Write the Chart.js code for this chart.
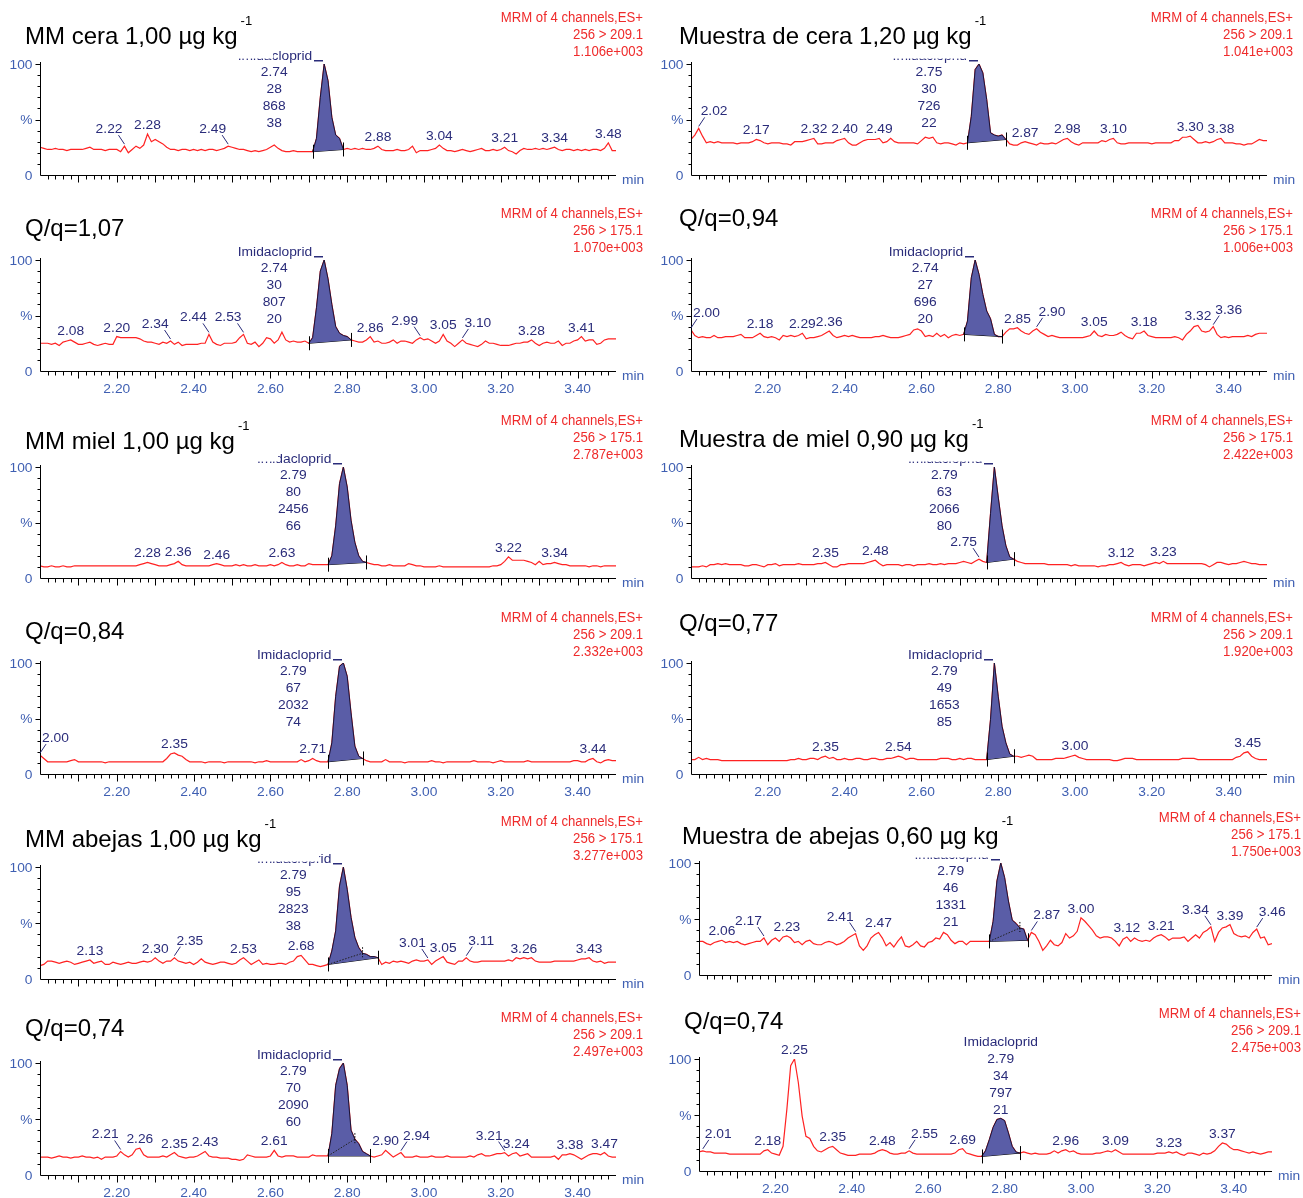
<!DOCTYPE html>
<html>
<head>
<meta charset="utf-8">
<title>Imidacloprid MRM chromatograms</title>
<script src="https://cdn.jsdelivr.net/npm/chart.js@4.4.1/dist/chart.umd.min.js"></script>
<style>
  html, body { margin: 0; padding: 0; background: #fff; }
  #page { position: relative; width: 1303px; height: 1198px; overflow: hidden; background: #fff; }
  #page canvas { position: absolute; }
</style>
</head>
<body>
<div id="page"></div>
<script>
// Retention time grid (min)
const TIMES = [
  2.00, 2.01, 2.02, 2.03, 2.04, 2.05, 2.06, 2.07, 2.08, 2.09,
  2.10, 2.11, 2.12, 2.13, 2.14, 2.15, 2.16, 2.17, 2.18, 2.19,
  2.20, 2.21, 2.22, 2.23, 2.24, 2.25, 2.26, 2.27, 2.28, 2.29,
  2.30, 2.31, 2.32, 2.33, 2.34, 2.35, 2.36, 2.37, 2.38, 2.39,
  2.40, 2.41, 2.42, 2.43, 2.44, 2.45, 2.46, 2.47, 2.48, 2.49,
  2.50, 2.51, 2.52, 2.53, 2.54, 2.55, 2.56, 2.57, 2.58, 2.59,
  2.60, 2.61, 2.62, 2.63, 2.64, 2.65, 2.66, 2.67, 2.68, 2.69,
  2.70, 2.71, 2.72, 2.73, 2.74, 2.75, 2.76, 2.77, 2.78, 2.79,
  2.80, 2.81, 2.82, 2.83, 2.84, 2.85, 2.86, 2.87, 2.88, 2.89,
  2.90, 2.91, 2.92, 2.93, 2.94, 2.95, 2.96, 2.97, 2.98, 2.99,
  3.00, 3.01, 3.02, 3.03, 3.04, 3.05, 3.06, 3.07, 3.08, 3.09,
  3.10, 3.11, 3.12, 3.13, 3.14, 3.15, 3.16, 3.17, 3.18, 3.19,
  3.20, 3.21, 3.22, 3.23, 3.24, 3.25, 3.26, 3.27, 3.28, 3.29,
  3.30, 3.31, 3.32, 3.33, 3.34, 3.35, 3.36, 3.37, 3.38, 3.39,
  3.40, 3.41, 3.42, 3.43, 3.44, 3.45, 3.46, 3.47, 3.48, 3.49,
  3.50
];

const X_TICK_VALUES = [2.20, 2.40, 2.60, 2.80, 3.00, 3.20, 3.40];
const X_TICK_TEXT = ['2.20', '2.40', '2.60', '2.80', '3.00', '3.20', '3.40'];
const Y_TICK_VALUES = [0, 50, 100];
const Y_TICK_TEXT = ['0', '%', '100'];
const COMPOUND = 'Imidacloprid';
const MRM_LINE = 'MRM of 4 channels,ES+';

// ---------- Cera, matrix-matched standard ----------
const TITLE_CERA_MM = ['MM cera 1,00 µg kg', '-1'];
const TRACE_CERA_MM_209 = [
  25, 24, 23, 23, 24, 23, 23, 22, 23, 23,
  23, 23, 24, 25, 23, 23, 23, 22, 23, 23,
  23, 21, 26, 20, 23, 26, 24, 27, 37, 30,
  32, 30, 28, 25, 23, 23, 22, 23, 23, 22,
  23, 22, 23, 22, 23, 23, 22, 23, 24, 26,
  25, 24, 23, 23, 22, 21, 22, 21, 22, 23,
  25, 27, 24, 22, 21, 21, 22, 21, 21, 21,
  21, 21, 33, 70, 100, 85, 52, 36, 33, 23,
  24, 23, 24, 23, 24, 23, 23, 24, 26, 23,
  22, 22, 22, 23, 22, 22, 23, 26, 20, 22,
  22, 22, 23, 24, 27, 24, 22, 22, 21, 22,
  23, 22, 21, 22, 23, 24, 22, 22, 23, 22,
  23, 25, 22, 21, 19, 22, 24, 23, 23, 24,
  23, 24, 23, 24, 25, 23, 22, 23, 23, 22,
  23, 22, 23, 22, 23, 23, 22, 24, 29, 22,
  22
];
const MARKS_CERA_MM_209 = [2.22, 2.28, 2.49, 2.88, 3.04, 3.21, 3.34, 3.48];
const PEAK_CERA_MM_209 = [2.71, 2.74, 2.79];
const STATS_CERA_MM_209 = ['2.74', '28', '868', '38'];
const HEAD_CERA_MM_209 = [MRM_LINE, '256 > 209.1', '1.106e+003'];

const TITLE_CERA_MM_Q = ['Q/q=1,07'];
const TRACE_CERA_MM_175 = [
  25, 25, 25, 24, 25, 23, 26, 27, 28, 26,
  24, 24, 25, 26, 24, 23, 24, 25, 24, 24,
  31, 30, 30, 30, 30, 30, 29, 27, 26, 26,
  25, 24, 26, 25, 27, 24, 26, 23, 24, 24,
  24, 24, 25, 25, 33, 26, 24, 23, 25, 25,
  25, 26, 30, 33, 25, 24, 26, 22, 25, 30,
  29, 25, 28, 35, 28, 26, 27, 26, 26, 27,
  25, 30, 57, 90, 100, 83, 60, 40, 34, 32,
  31, 28, 27, 26, 26, 28, 31, 26, 27, 25,
  25, 26, 28, 25, 27, 27, 26, 25, 28, 30,
  28, 29, 27, 25, 27, 33, 27, 25, 22, 25,
  28, 25, 24, 23, 22, 24, 27, 25, 25, 24,
  23, 23, 23, 24, 25, 25, 26, 26, 28, 25,
  23, 25, 26, 25, 25, 27, 23, 25, 25, 27,
  28, 31, 27, 28, 28, 24, 25, 28, 29, 29,
  29
];
const MARKS_CERA_MM_175 = [2.08, 2.20, 2.34, 2.44, 2.53, 2.86, 2.99, 3.05, 3.10, 3.28, 3.41];
const PEAK_CERA_MM_175 = [2.70, 2.74, 2.81];
const STATS_CERA_MM_175 = ['2.74', '30', '807', '20'];
const HEAD_CERA_MM_175 = [MRM_LINE, '256 > 175.1', '1.070e+003'];

// ---------- Miel, matrix-matched standard ----------
const TITLE_MIEL_MM = ['MM miel 1,00 µg kg', '-1'];
const TRACE_MIEL_MM_175 = [
  11, 10, 10, 11, 10, 10, 11, 10, 10, 11,
  11, 11, 11, 11, 11, 11, 11, 11, 11, 11,
  11, 11, 11, 11, 11, 11, 12, 13, 14, 13,
  12, 11, 11, 11, 12, 13, 15, 12, 11, 11,
  11, 11, 11, 11, 11, 12, 13, 12, 11, 11,
  11, 12, 11, 12, 11, 11, 12, 11, 11, 11,
  12, 11, 12, 14, 12, 11, 11, 12, 11, 11,
  13, 12, 12, 12, 12, 12, 20, 47, 85, 100,
  82, 52, 32, 20, 15, 14, 13, 12, 12, 11,
  11, 12, 11, 11, 11, 11, 13, 12, 11, 11,
  10, 10, 10, 10, 11, 10, 10, 10, 10, 10,
  10, 10, 10, 10, 10, 10, 10, 10, 11, 11,
  12, 15, 19, 16, 16, 16, 16, 15, 14, 12,
  15, 12, 13, 13, 14, 13, 12, 12, 11, 11,
  11, 11, 11, 10, 11, 11, 10, 11, 11, 11,
  11
];
const MARKS_MIEL_MM_175 = [2.28, 2.36, 2.46, 2.63, 3.22, 3.34];
const PEAK_MIEL_MM_175 = [2.75, 2.79, 2.85];
const STATS_MIEL_MM_175 = ['2.79', '80', '2456', '66'];
const HEAD_MIEL_MM_175 = [MRM_LINE, '256 > 175.1', '2.787e+003'];

const TITLE_MIEL_MM_Q = ['Q/q=0,84'];
const TRACE_MIEL_MM_209 = [
  17, 14, 11, 11, 11, 11, 11, 11, 12, 13,
  11, 11, 11, 11, 11, 11, 11, 10, 11, 11,
  11, 11, 11, 11, 11, 11, 11, 11, 11, 11,
  11, 11, 11, 14, 18, 19, 17, 16, 13, 11,
  11, 11, 11, 10, 11, 11, 11, 11, 10, 11,
  11, 11, 11, 11, 11, 11, 10, 11, 11, 12,
  11, 11, 11, 11, 11, 11, 11, 11, 13, 11,
  12, 14, 12, 11, 11, 11, 28, 70, 97, 100,
  88, 55, 25, 16, 14, 12, 11, 11, 11, 11,
  13, 11, 11, 11, 11, 10, 11, 11, 11, 11,
  11, 11, 12, 11, 11, 10, 11, 11, 11, 11,
  11, 11, 11, 12, 11, 11, 11, 11, 10, 11,
  12, 11, 11, 11, 11, 11, 11, 12, 11, 11,
  11, 11, 11, 11, 11, 11, 11, 11, 11, 12,
  12, 11, 11, 13, 14, 11, 10, 12, 13, 12,
  12
];
const MARKS_MIEL_MM_209 = [2.00, 2.35, 2.71, 3.44];
const PEAK_MIEL_MM_209 = [2.75, 2.79, 2.84];
const STATS_MIEL_MM_209 = ['2.79', '67', '2032', '74'];
const HEAD_MIEL_MM_209 = [MRM_LINE, '256 > 209.1', '2.332e+003'];

// ---------- Abejas, matrix-matched standard ----------
const TITLE_ABEJAS_MM = ['MM abejas 1,00 µg kg', '-1'];
const TRACE_ABEJAS_MM_175 = [
  12, 13, 16, 16, 15, 14, 15, 16, 15, 13,
  14, 15, 16, 17, 14, 15, 16, 13, 13, 15,
  14, 13, 14, 15, 14, 14, 15, 16, 15, 16,
  19, 16, 14, 16, 16, 19, 16, 15, 14, 15,
  13, 15, 18, 15, 14, 13, 14, 15, 15, 14,
  13, 14, 17, 19, 16, 13, 15, 17, 13, 14,
  13, 13, 14, 14, 13, 15, 16, 20, 21, 17,
  13, 13, 12, 11, 12, 13, 25, 43, 83, 100,
  80, 55, 37, 28, 23, 22, 20, 20, 19, 13,
  15, 14, 16, 15, 16, 15, 14, 16, 17, 16,
  16, 17, 13, 16, 18, 20, 15, 14, 13, 16,
  16, 19, 16, 15, 15, 16, 16, 16, 16, 16,
  16, 16, 17, 16, 19, 18, 19, 18, 19, 16,
  15, 15, 15, 15, 16, 16, 16, 16, 16, 16,
  17, 18, 18, 19, 16, 15, 16, 14, 15, 15,
  15
];
const MARKS_ABEJAS_MM_175 = [2.13, 2.30, 2.35, 2.53, 2.68, 3.01, 3.05, 3.11, 3.26, 3.43];
const PEAK_ABEJAS_MM_175 = [2.75, 2.79, 2.88, 2.84];
const STATS_ABEJAS_MM_175 = ['2.79', '95', '2823', '38'];
const HEAD_ABEJAS_MM_175 = [MRM_LINE, '256 > 175.1', '3.277e+003'];

const TITLE_ABEJAS_MM_Q = ['Q/q=0,74'];
const TRACE_ABEJAS_MM_209 = [
  16, 16, 16, 15, 16, 17, 16, 16, 15, 16,
  16, 17, 16, 16, 15, 16, 14, 16, 16, 16,
  17, 21, 18, 16, 18, 23, 24, 18, 16, 16,
  16, 16, 17, 16, 18, 20, 17, 16, 15, 16,
  16, 17, 19, 21, 17, 16, 16, 15, 15, 15,
  14, 14, 13, 14, 18, 17, 16, 16, 16, 16,
  17, 22, 17, 16, 17, 17, 17, 16, 16, 16,
  16, 18, 17, 17, 17, 17, 37, 80, 95, 100,
  80, 40, 32, 28, 21, 19, 17, 16, 17, 18,
  22, 19, 16, 18, 20, 16, 16, 16, 17, 16,
  16, 16, 17, 16, 16, 16, 17, 16, 16, 16,
  16, 16, 17, 16, 18, 19, 17, 17, 18, 19,
  19, 20, 17, 19, 20, 17, 18, 19, 16, 16,
  16, 16, 16, 16, 17, 14, 18, 18, 19, 18,
  16, 14, 16, 18, 19, 19, 18, 20, 17, 16,
  16
];
const MARKS_ABEJAS_MM_209 = [2.21, 2.26, 2.35, 2.43, 2.61, 2.90, 2.94, 3.21, 3.24, 3.38, 3.47];
const PEAK_ABEJAS_MM_209 = [2.75, 2.79, 2.86, 2.82];
const STATS_ABEJAS_MM_209 = ['2.79', '70', '2090', '60'];
const HEAD_ABEJAS_MM_209 = [MRM_LINE, '256 > 209.1', '2.497e+003'];

// ---------- Cera, sample ----------
const TITLE_CERA_M = ['Muestra de cera 1,20 µg kg', '-1'];
const TRACE_CERA_M_209 = [
  32, 36, 42, 35, 29, 30, 29, 30, 29, 29,
  29, 29, 28, 29, 29, 29, 30, 32, 31, 29,
  28, 29, 29, 29, 28, 28, 27, 30, 30, 30,
  31, 32, 33, 28, 28, 29, 29, 29, 31, 32,
  33, 29, 27, 27, 29, 31, 32, 32, 32, 33,
  29, 30, 33, 30, 29, 29, 29, 29, 29, 28,
  31, 34, 33, 34, 29, 28, 29, 29, 28, 27,
  29, 28, 29, 53, 95, 100, 92, 68, 38, 36,
  35, 36, 32, 28, 27, 27, 29, 30, 29, 28,
  27, 29, 28, 28, 29, 28, 30, 32, 33, 30,
  28, 27, 29, 29, 29, 29, 29, 31, 30, 32,
  33, 29, 28, 28, 29, 29, 29, 29, 29, 29,
  28, 29, 29, 29, 29, 29, 31, 31, 34, 34,
  35, 32, 29, 29, 30, 29, 30, 32, 33, 29,
  29, 29, 28, 28, 27, 28, 28, 30, 32, 31,
  31
];
const MARKS_CERA_M_209 = [2.02, 2.17, 2.32, 2.40, 2.49, 2.87, 2.98, 3.10, 3.30, 3.38];
const PEAK_CERA_M_209 = [2.72, 2.75, 2.82];
const STATS_CERA_M_209 = ['2.75', '30', '726', '22'];
const HEAD_CERA_M_209 = [MRM_LINE, '256 > 209.1', '1.041e+003'];

const TITLE_CERA_M_Q = ['Q/q=0,94'];
const TRACE_CERA_M_175 = [
  37, 32, 30, 31, 30, 30, 32, 30, 30, 31,
  31, 31, 32, 33, 30, 30, 30, 32, 34, 31,
  30, 31, 30, 28, 32, 31, 32, 31, 32, 34,
  29, 30, 30, 31, 32, 34, 36, 32, 30, 31,
  32, 31, 32, 31, 30, 30, 30, 30, 31, 31,
  32, 31, 30, 30, 30, 31, 32, 33, 37, 38,
  36, 31, 32, 31, 34, 31, 33, 30, 32, 33,
  32, 33, 45, 84, 100, 87, 69, 54, 47, 33,
  31, 31, 35, 38, 38, 39, 36, 34, 33, 36,
  38, 35, 33, 31, 32, 31, 30, 30, 30, 30,
  30, 30, 30, 31, 32, 36, 32, 31, 33, 32,
  32, 33, 35, 32, 30, 29, 34, 34, 36, 32,
  31, 30, 30, 30, 30, 30, 31, 30, 28, 33,
  36, 40, 41, 36, 35, 36, 40, 33, 30, 31,
  30, 31, 31, 31, 31, 32, 31, 33, 34, 34,
  34
];
const MARKS_CERA_M_175 = [2.00, 2.18, 2.29, 2.36, 2.85, 2.90, 3.05, 3.18, 3.32, 3.36];
const PEAK_CERA_M_175 = [2.71, 2.74, 2.81];
const STATS_CERA_M_175 = ['2.74', '27', '696', '20'];
const HEAD_CERA_M_175 = [MRM_LINE, '256 > 175.1', '1.006e+003'];

// ---------- Miel, sample ----------
const TITLE_MIEL_M = ['Muestra de miel 0,90 µg kg', '-1'];
const TRACE_MIEL_M_175 = [
  10, 10, 10, 11, 10, 12, 12, 13, 12, 13,
  12, 12, 12, 12, 11, 11, 12, 12, 11, 10,
  12, 12, 13, 11, 12, 12, 12, 12, 13, 12,
  12, 12, 12, 13, 13, 14, 12, 10, 10, 12,
  12, 13, 13, 13, 13, 13, 14, 15, 16, 13,
  11, 12, 12, 12, 12, 11, 12, 12, 11, 12,
  12, 12, 13, 12, 12, 13, 12, 13, 13, 13,
  14, 15, 14, 13, 15, 17, 15, 14, 58, 100,
  73, 47, 29, 19, 17, 15, 14, 13, 13, 13,
  13, 13, 13, 12, 12, 12, 12, 12, 12, 11,
  12, 11, 11, 11, 11, 11, 10, 11, 11, 12,
  12, 13, 14, 12, 11, 12, 12, 12, 11, 12,
  13, 14, 13, 15, 13, 13, 13, 13, 13, 13,
  13, 13, 13, 13, 12, 10, 12, 14, 14, 13,
  12, 13, 13, 14, 15, 14, 13, 13, 12, 12,
  12
];
const MARKS_MIEL_M_175 = [2.35, 2.48, 2.75, 3.12, 3.23];
const PEAK_MIEL_M_175 = [2.77, 2.79, 2.84];
const STATS_MIEL_M_175 = ['2.79', '63', '2066', '80'];
const HEAD_MIEL_M_175 = [MRM_LINE, '256 > 175.1', '2.422e+003'];

const TITLE_MIEL_M_Q = ['Q/q=0,77'];
const TRACE_MIEL_M_209 = [
  13, 13, 15, 13, 14, 13, 13, 13, 12, 12,
  12, 12, 12, 12, 12, 12, 12, 12, 12, 12,
  12, 12, 12, 12, 12, 12, 13, 13, 14, 13,
  13, 14, 14, 13, 15, 16, 14, 15, 13, 13,
  14, 13, 13, 14, 14, 13, 13, 14, 14, 13,
  13, 14, 14, 15, 16, 15, 13, 14, 14, 13,
  13, 13, 13, 13, 13, 14, 14, 14, 13, 13,
  14, 13, 14, 14, 13, 13, 13, 13, 49, 100,
  70, 43, 28, 18, 16, 16, 15, 16, 17, 16,
  13, 13, 13, 13, 13, 14, 14, 14, 15, 16,
  17, 15, 14, 13, 13, 13, 13, 13, 13, 13,
  12, 12, 13, 14, 14, 14, 13, 13, 13, 13,
  13, 13, 13, 13, 13, 13, 13, 13, 14, 14,
  14, 14, 13, 13, 13, 13, 13, 13, 13, 13,
  13, 13, 15, 16, 19, 20, 16, 14, 13, 13,
  13
];
const MARKS_MIEL_M_209 = [2.35, 2.54, 3.00, 3.45];
const PEAK_MIEL_M_209 = [2.77, 2.79, 2.84];
const STATS_MIEL_M_209 = ['2.79', '49', '1653', '85'];
const HEAD_MIEL_M_209 = [MRM_LINE, '256 > 209.1', '1.920e+003'];

// ---------- Abejas, sample ----------
const TITLE_ABEJAS_M = ['Muestra de abejas 0,60 µg kg', '-1'];
const TRACE_ABEJAS_M_175 = [
  30, 30, 28, 27, 29, 30, 31, 29, 30, 29,
  30, 28, 27, 28, 29, 30, 30, 33, 27, 31,
  33, 30, 34, 35, 33, 29, 30, 27, 30, 31,
  28, 27, 27, 29, 30, 29, 27, 28, 30, 33,
  35, 37, 26, 22, 26, 33, 36, 38, 33, 26,
  29, 25, 30, 34, 26, 25, 27, 30, 26, 25,
  29, 30, 33, 32, 38, 36, 31, 28, 30, 30,
  27, 30, 30, 30, 30, 30, 30, 48, 84, 100,
  87, 66, 49, 46, 42, 41, 31, 38, 36, 30,
  22, 26, 31, 27, 26, 29, 37, 33, 35, 39,
  51, 48, 44, 40, 35, 33, 34, 34, 33, 30,
  26, 32, 34, 30, 33, 31, 30, 31, 30, 33,
  35, 36, 34, 31, 33, 33, 33, 34, 30, 33,
  36, 33, 38, 40, 43, 30, 38, 42, 43, 45,
  37, 35, 34, 35, 33, 38, 41, 33, 34, 27,
  28
];
const MARKS_ABEJAS_M_175 = [2.06, 2.17, 2.23, 2.41, 2.47, 2.87, 3.00, 3.12, 3.21, 3.34, 3.39, 3.46];
const PEAK_ABEJAS_M_175 = [2.76, 2.79, 2.86, 2.84];
const STATS_ABEJAS_M_175 = ['2.79', '46', '1331', '21'];
const HEAD_ABEJAS_M_175 = [MRM_LINE, '256 > 175.1', '1.750e+003'];

const TITLE_ABEJAS_M_Q = ['Q/q=0,74'];
const TRACE_ABEJAS_M_209 = [
  17, 18, 17, 17, 16, 16, 16, 16, 15, 15,
  15, 15, 15, 15, 15, 15, 15, 18, 19, 16,
  15, 14, 22, 55, 94, 100, 79, 49, 31, 29,
  22, 18, 17, 19, 21, 22, 19, 16, 15, 14,
  14, 14, 15, 15, 15, 15, 16, 18, 19, 18,
  16, 15, 15, 16, 16, 18, 16, 15, 15, 15,
  15, 15, 15, 15, 15, 15, 15, 16, 19, 20,
  16, 15, 14, 13, 13, 18, 28, 39, 46, 47,
  45, 34, 22, 17, 16, 17, 16, 15, 16, 15,
  15, 15, 16, 18, 16, 18, 19, 17, 18, 16,
  15, 15, 15, 15, 16, 16, 17, 18, 17, 19,
  17, 15, 15, 15, 15, 15, 15, 15, 15, 15,
  16, 16, 16, 17, 16, 17, 15, 14, 16, 16,
  15, 14, 16, 15, 16, 18, 22, 25, 24, 21,
  19, 19, 18, 17, 16, 17, 16, 15, 16, 17,
  17
];
const MARKS_ABEJAS_M_209 = [2.01, 2.18, 2.25, 2.35, 2.48, 2.55, 2.69, 2.96, 3.09, 3.23, 3.37];
const PEAK_ABEJAS_M_209 = [2.74, 2.79, 2.84];
const STATS_ABEJAS_M_209 = ['2.79', '34', '797', '21'];
const HEAD_ABEJAS_M_209 = [MRM_LINE, '256 > 209.1', '2.475e+003'];

// ---------- Page layout (pixel boxes, text placement, label nudges) ----------
const FONT = '"Liberation Sans", Arial, Helvetica, sans-serif';
const COLORS = {
  trace: '#ff2222', peakFill: '#5a5da7', peakEdge: '#15153a',
  label: '#2a2c7a', axisText: '#3f5fb2', head: '#ef2b2b', title: '#000000'
};

const PANELS = [
  { title: TITLE_CERA_MM, trace: TRACE_CERA_MM_209, marks: MARKS_CERA_MM_209, peak: PEAK_CERA_MM_209, stats: STATS_CERA_MM_209, head: HEAD_CERA_MM_209,
    box: { L: 40, R: 616, T: 64, B: 175, titleX: 25, titleY: 35, headR: 643, headY: 17, ticks: false, block: 'left', mask: 273, leaders: { '2.22': -1, '2.49': -1 } } },
  { title: TITLE_CERA_MM_Q, trace: TRACE_CERA_MM_175, marks: MARKS_CERA_MM_175, peak: PEAK_CERA_MM_175, stats: STATS_CERA_MM_175, head: HEAD_CERA_MM_175,
    box: { L: 40, R: 616, T: 260, B: 371, titleX: 25, titleY: 227, headR: 643, headY: 213, ticks: true, block: 'left', mask: null, leaders: { '2.34': -1, '2.44': -1, '2.53': -1, '2.99': -1, '3.10': 1 } } },
  { title: TITLE_MIEL_MM, trace: TRACE_MIEL_MM_175, marks: MARKS_MIEL_MM_175, peak: PEAK_MIEL_MM_175, stats: STATS_MIEL_MM_175, head: HEAD_MIEL_MM_175,
    box: { L: 40, R: 616, T: 467, B: 578, titleX: 25, titleY: 440, headR: 643, headY: 420, ticks: false, block: 'left', mask: 278, leaders: {} } },
  { title: TITLE_MIEL_MM_Q, trace: TRACE_MIEL_MM_209, marks: MARKS_MIEL_MM_209, peak: PEAK_MIEL_MM_209, stats: STATS_MIEL_MM_209, head: HEAD_MIEL_MM_209,
    box: { L: 40, R: 616, T: 663, B: 774, titleX: 25, titleY: 630, headR: 643, headY: 617, ticks: true, block: 'left', mask: null, leaders: { '2.00': 1 } } },
  { title: TITLE_ABEJAS_MM, trace: TRACE_ABEJAS_MM_175, marks: MARKS_ABEJAS_MM_175, peak: PEAK_ABEJAS_MM_175, stats: STATS_ABEJAS_MM_175, head: HEAD_ABEJAS_MM_175,
    box: { L: 40, R: 616, T: 867, B: 979, titleX: 25, titleY: 838, headR: 643, headY: 821, ticks: false, block: 'left', mask: 319, leaders: { '2.35': 1, '3.01': -1, '3.11': 1 } } },
  { title: TITLE_ABEJAS_MM_Q, trace: TRACE_ABEJAS_MM_209, marks: MARKS_ABEJAS_MM_209, peak: PEAK_ABEJAS_MM_209, stats: STATS_ABEJAS_MM_209, head: HEAD_ABEJAS_MM_209,
    box: { L: 40, R: 616, T: 1063, B: 1175, titleX: 25, titleY: 1027, headR: 643, headY: 1017, ticks: true, block: 'left', mask: null, leaders: { '2.21': -1, '2.94': 1, '3.21': -1 } } },
  { title: TITLE_CERA_M, trace: TRACE_CERA_M_209, marks: MARKS_CERA_M_209, peak: PEAK_CERA_M_209, stats: STATS_CERA_M_209, head: HEAD_CERA_M_209,
    box: { L: 691, R: 1267, T: 64, B: 175, titleX: 679, titleY: 35, headR: 1293, headY: 17, ticks: false, block: 'left', mask: 'all', leaders: { '2.02': 1 } } },
  { title: TITLE_CERA_M_Q, trace: TRACE_CERA_M_175, marks: MARKS_CERA_M_175, peak: PEAK_CERA_M_175, stats: STATS_CERA_M_175, head: HEAD_CERA_M_175,
    box: { L: 691, R: 1267, T: 260, B: 371, titleX: 679, titleY: 217, headR: 1293, headY: 213, ticks: true, block: 'left', mask: null, leaders: { '2.00': 1, '2.90': 1, '3.36': 1 } } },
  { title: TITLE_MIEL_M, trace: TRACE_MIEL_M_175, marks: MARKS_MIEL_M_175, peak: PEAK_MIEL_M_175, stats: STATS_MIEL_M_175, head: HEAD_MIEL_M_175,
    box: { L: 691, R: 1267, T: 467, B: 578, titleX: 679, titleY: 438, headR: 1293, headY: 420, ticks: false, block: 'left', mask: 'all', leaders: { '2.75': -1 } } },
  { title: TITLE_MIEL_M_Q, trace: TRACE_MIEL_M_209, marks: MARKS_MIEL_M_209, peak: PEAK_MIEL_M_209, stats: STATS_MIEL_M_209, head: HEAD_MIEL_M_209,
    box: { L: 691, R: 1267, T: 663, B: 774, titleX: 679, titleY: 622, headR: 1293, headY: 617, ticks: true, block: 'left', mask: null, leaders: {} } },
  { title: TITLE_ABEJAS_M, trace: TRACE_ABEJAS_M_175, marks: MARKS_ABEJAS_M_175, peak: PEAK_ABEJAS_M_175, stats: STATS_ABEJAS_M_175, head: HEAD_ABEJAS_M_175,
    box: { L: 699, R: 1272, T: 863, B: 975, titleX: 682, titleY: 835, headR: 1301, headY: 817, ticks: false, block: 'left', mask: 'all', leaders: { '2.17': -1, '2.41': -1, '2.87': 1, '3.34': -1, '3.46': 1 } } },
  { title: TITLE_ABEJAS_M_Q, trace: TRACE_ABEJAS_M_209, marks: MARKS_ABEJAS_M_209, peak: PEAK_ABEJAS_M_209, stats: STATS_ABEJAS_M_209, head: HEAD_ABEJAS_M_209,
    box: { L: 699, R: 1272, T: 1059, B: 1171, titleX: 684, titleY: 1020, headR: 1301, headY: 1013, ticks: true, block: 'above', mask: null, leaders: { '2.01': 1, '2.55': 1 } } }
];

const PAD = { left: 40, right: 45, top: 62, bottom: 30 };

function timeIndex(t) {
  return TIMES.findIndex(v => Math.abs(v - t) < 1e-6);
}

// Text with optional horizontal stretch; returns the drawn extent
function drawText(ctx, s, x, y, size, color, align, sx) {
  ctx.save();
  ctx.font = size + 'px ' + FONT;
  ctx.fillStyle = color;
  ctx.textBaseline = 'alphabetic';
  ctx.textAlign = 'left';
  const w = ctx.measureText(s).width * sx;
  const x0 = align === 'center' ? x - w / 2 : (align === 'right' ? x - w : x);
  ctx.translate(x0, y);
  ctx.scale(sx, 1);
  ctx.fillText(s, 0, 0);
  ctx.restore();
  return { left: x0, right: x0 + w, width: w };
}

function chromPlugin(panel) {
  return {
    id: 'chromDecor',
    afterDraw(chart) {
      const ctx = chart.ctx;
      const xs = chart.scales.x, ys = chart.scales.y;
      const b = panel.box;
      const ox = b.L - PAD.left, oy = b.T - PAD.top;
      const X = t => xs.getPixelForValue(t);
      const Y = v => ys.getPixelForValue(v);
      const valAt = t => panel.trace[timeIndex(t)];
      const top = Y(100), bot = Y(0);
      const ax = Math.round(X(xs.min)) + 0.5;
      const ay = Math.round(bot) + 0.5;
      const axRight = Math.round(X(xs.max));

      ctx.save();
      // axes
      ctx.strokeStyle = '#000';
      ctx.lineWidth = 1;
      ctx.beginPath();
      ctx.moveTo(ax, Math.round(top) - 2);
      ctx.lineTo(ax, ay);
      ctx.lineTo(axRight, ay);
      ctx.stroke();
      ctx.beginPath();
      for (let v = 10; v <= 100; v += 10) {
        const yy = Math.round(Y(v)) + 0.5;
        const len = (v % 50 === 0) ? 5 : 3;
        ctx.moveTo(ax - len, yy);
        ctx.lineTo(ax, yy);
      }
      for (let k = 1; k < 80; k++) {
        const t = 2 + k * 0.02;
        if (t > xs.max - 0.005) break;
        const xx = Math.round(X(t)) + 0.5;
        const len = (k % 5 === 0) ? 7 : 4;
        ctx.moveTo(xx, ay);
        ctx.lineTo(xx, ay + len);
      }
      ctx.stroke();

      // axis text
      Y_TICK_VALUES.forEach((v, i) => {
        drawText(ctx, Y_TICK_TEXT[i], ax - 8, Y(v) + 4.5, 12.5, COLORS.axisText, 'right', 1.1);
      });
      if (b.ticks) {
        X_TICK_VALUES.forEach((t, i) => {
          drawText(ctx, X_TICK_TEXT[i], X(t), bot + 22, 12, COLORS.axisText, 'center', 1.15);
        });
      }
      drawText(ctx, 'min', axRight + 6, bot + 9, 12, COLORS.axisText, 'left', 1.15);

      // integration limits
      const [tS, tA, tE, tSh] = panel.peak;
      const xS = X(tS), yS = Y(valAt(tS)), xE = X(tE), yE = Y(valAt(tE));
      ctx.strokeStyle = '#000';
      ctx.beginPath();
      ctx.moveTo(Math.round(xS) + 0.5, yS - 7); ctx.lineTo(Math.round(xS) + 0.5, yS + 7);
      ctx.moveTo(Math.round(xE) + 0.5, yE - 7); ctx.lineTo(Math.round(xE) + 0.5, yE + 7);
      ctx.stroke();
      if (tSh !== undefined) {
        const xh = X(tSh), yh = Y(valAt(tSh));
        ctx.setLineDash([1.5, 1.5]);
        ctx.beginPath();
        ctx.moveTo(xh, yh - 6); ctx.lineTo(xh, yh + 4);
        ctx.stroke();
        ctx.setLineDash([]);
      }

      // retention-time labels on minor peaks
      ctx.strokeStyle = COLORS.label;
      panel.marks.forEach(t => {
        const key = t.toFixed(2);
        const px = X(t), py = Y(valAt(t));
        const side = b.leaders[key] || 0;
        ctx.font = '12px ' + FONT;
        const w = ctx.measureText(key).width * 1.15;
        if (!side) {
          drawText(ctx, key, px, py - 5, 12, COLORS.label, 'center', 1.15);
        } else {
          const cx = px + side * (w / 2 + 2);
          const base = py - 13;
          drawText(ctx, key, cx, base, 12, COLORS.label, 'center', 1.15);
          ctx.beginPath();
          ctx.moveTo(cx - side * (w / 2 - 4), base + 2);
          ctx.lineTo(px, py - 2);
          ctx.stroke();
        }
      });

      // compound annotation block
      const axp = X(tA), ayp = Y(valAt(tA));
      if (b.block === 'left') {
        panel.stats.forEach((s, i) => {
          drawText(ctx, s, axp - 50, top + 12 + 17 * i, 12, COLORS.label, 'center', 1.15);
        });
        const nameBase = top - 4;
        const ext = drawText(ctx, COMPOUND, axp - 12, nameBase, 12, COLORS.label, 'right', 1.15);
        ctx.fillStyle = COLORS.label;
        ctx.fillRect(Math.round(axp - 10), Math.round(top - 4), 9, 1.5);
        if (b.mask !== null) {
          const x1 = b.mask === 'all' ? ext.right + 1 : b.mask - ox;
          ctx.fillStyle = '#fff';
          ctx.fillRect(ext.left - 1, nameBase - 13, x1 - ext.left + 1, 11.6);
        }
      } else {
        const n = panel.stats.length;
        panel.stats.forEach((s, i) => {
          drawText(ctx, s, axp, ayp - 4 - 17 * (n - 1 - i), 12, COLORS.label, 'center', 1.15);
        });
        drawText(ctx, COMPOUND, axp, ayp - 4 - 17 * n, 12, COLORS.label, 'center', 1.15);
      }

      // title and channel header
      const tExt = drawText(ctx, panel.title[0], b.titleX - ox, b.titleY - oy + 9, 24, COLORS.title, 'left', 1);
      if (panel.title[1]) {
        drawText(ctx, panel.title[1], tExt.right + 3, b.titleY - oy - 10, 13, COLORS.title, 'left', 1);
      }
      panel.head.forEach((s, i) => {
        drawText(ctx, s, b.headR - ox, b.headY - oy + 5 + 17 * i, 14, COLORS.head, 'right', 0.94);
      });
      ctx.restore();
    }
  };
}

const page = document.getElementById('page');
PANELS.forEach(panel => {
  const b = panel.box;
  const W = b.R - b.L + PAD.left + PAD.right;
  const H = b.B - b.T + PAD.top + PAD.bottom;
  const cv = document.createElement('canvas');
  cv.width = W; cv.height = H;
  cv.style.left = (b.L - PAD.left) + 'px';
  cv.style.top = (b.T - PAD.top) + 'px';
  cv.style.width = W + 'px';
  cv.style.height = H + 'px';
  page.appendChild(cv);

  const tracePts = TIMES.map((t, i) => ({ x: t, y: panel.trace[i] }));
  const [tS, tA, tE, tSh] = panel.peak;
  const iS = timeIndex(tS), iE = timeIndex(tE);
  const peakPts = tracePts.slice(iS, iE + 1);
  const basePts = [tracePts[iS], tracePts[iE]];

  const datasets = [
    { data: peakPts, borderColor: COLORS.peakEdge, borderWidth: 1, backgroundColor: COLORS.peakFill, fill: 1, pointRadius: 0, order: 1 },
    { data: basePts, borderColor: '#000', borderWidth: 1, fill: false, pointRadius: 0, order: 2 },
    { data: tracePts, borderColor: COLORS.trace, borderWidth: 1.2, fill: false, pointRadius: 0, order: 3 }
  ];
  if (tSh !== undefined) {
    const iH = timeIndex(tSh);
    datasets.push({ data: [tracePts[iS], tracePts[iH]], borderColor: '#222', borderWidth: 1, borderDash: [1.5, 1.5], fill: false, pointRadius: 0, order: 0 });
  }

  new Chart(cv, {
    type: 'line',
    data: { datasets },
    options: {
      responsive: false,
      animation: false,
      devicePixelRatio: 1,
      layout: { padding: PAD },
      elements: { line: { tension: 0 } },
      scales: {
        x: { type: 'linear', min: 2.00, max: 3.50, display: false },
        y: { type: 'linear', min: 0, max: 100, display: false }
      },
      plugins: { legend: { display: false }, tooltip: { enabled: false } }
    },
    plugins: [chromPlugin(panel)]
  });
});
</script>
</body>
</html>
